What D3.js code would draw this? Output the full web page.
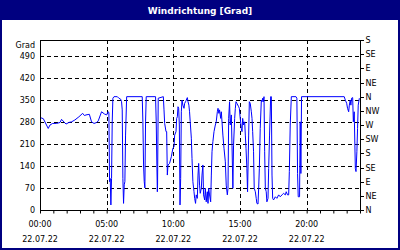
<!DOCTYPE html>
<html>
<head>
<meta charset="utf-8">
<script src="https://cdn.jsdelivr.net/npm/d3@7"></script>
<style>
  body { margin: 0; background: #fff; }
  svg { display: block; }
</style>
</head>
<body>
<svg id="svg1"></svg>
<script>
const title = 'Windrichtung [Grad]';
const unitLabel = 'Grad';
const day = '2022-07-22';

// minutes since midnight and direction in degrees
const minutes = [0, 15, 37, 45, 57, 75, 90, 97, 110, 117, 130, 142, 157, 175, 192, 200, 207, 222, 232, 243, 255, 262, 277, 290, 300, 306, 310,
  313, 316, 319, 322, 325, 328, 333, 348, 355, 363, 367, 370, 373, 376, 379, 382, 385, 390, 460, 463, 466, 469, 472, 475, 478,
  520, 523, 526, 528, 529, 532, 555, 558, 561, 567, 570, 573, 576, 583, 591, 598, 603, 606, 612, 615, 618, 621, 624, 627, 630,
  633, 636, 639, 643, 648, 651, 655, 658, 663, 666, 670, 673, 676, 681, 684, 688, 693, 696, 700, 703, 708, 711, 714, 718, 721,
  726, 729, 733, 736, 741, 744, 748, 753, 756, 759, 763, 768, 771, 774, 778, 783, 789, 793, 798, 801, 805, 808, 813, 816, 820,
  823, 828, 834, 838, 843, 846, 849, 853, 856, 861, 864, 868, 871, 876, 879, 882, 886, 894, 897, 901, 906, 909, 912, 916, 921,
  924, 927, 931, 934, 939, 942, 946, 951, 954, 957, 961, 964, 969, 973, 976, 981, 984, 987, 991, 996, 999, 1002, 1005, 1008,
  1011, 1014, 1018, 1021, 1026, 1029, 1033, 1038, 1041, 1044, 1047, 1051, 1059, 1066, 1074, 1081, 1089, 1096, 1104, 1108,
  1114, 1119, 1122, 1126, 1131, 1152, 1156, 1159, 1162, 1168, 1171, 1174, 1177, 1369, 1374, 1380, 1384, 1389, 1392, 1396,
  1399, 1402, 1407, 1410, 1414, 1419, 1422, 1426, 1429, 1432, 1437];
const degrees = [294, 290, 259, 270, 275, 275, 278, 288, 278, 273, 278, 280, 286, 296, 307, 300, 302, 304, 280, 275, 278, 283, 312, 305, 302, 312, 310,
  90, 100, 16, 100, 280, 355, 360, 360, 355, 352, 344, 318, 100, 21, 80, 90, 238, 360, 360, 280, 143, 90, 70, 280, 360,
  360, 280, 143, 58, 79, 355, 360, 318, 275, 249, 249, 111, 143, 148, 169, 196, 201, 238, 249, 291, 296, 328, 323, 270, 16,
  100, 312, 349, 333, 323, 339, 344, 349, 357, 344, 333, 312, 280, 228, 164, 90, 58, 37, 21, 48, 37, 111, 148, 79, 53,
  69, 111, 143, 48, 32, 69, 26, 58, 21, 69, 48, 26, 111, 185, 217, 249, 270, 280, 312, 323, 307, 318, 291, 312, 270,
  238, 196, 153, 79, 48, 69, 291, 344, 270, 302, 206, 69, 206, 291, 323, 344, 339, 328, 323, 291, 259, 249, 291, 270, 280,
  238, 196, 132, 58, 238, 344, 339, 312, 291, 249, 185, 69, 58, 37, 21, 19, 69, 132, 259, 349, 344, 355, 344, 360,
  185, 69, 58, 26, 37, 132, 238, 360, 360, 111, 37, 32, 42, 37, 48, 42, 48, 53, 48, 58,
  48, 48, 122, 270, 360, 360, 355, 116, 42, 42, 280, 116, 360, 360, 349, 339, 323, 312, 333, 349,
  333, 355, 357, 280, 312, 132, 122, 185, 259, 333, 355];

const leftTicks = [70, 140, 210, 280, 350, 420, 490];
const leftLabels = [0, 70, 140, 210, 280, 350, 420, 490];
const compass = ['N', 'NE', 'E', 'SE', 'S', 'SW', 'W', 'NW', 'N', 'NE', 'E', 'SE', 'S'];
const labelHours = [0, 5, 10, 15, 20];

const width = 400;
const height = 250;
const navy = '#000080';
const plot = { left: 40, right: 360, top: 40, bottom: 210 };

const svg = d3.select('#svg1')
    .attr('width', width)
    .attr('height', height)
    .style('font-family', '"DejaVu Sans", sans-serif');

svg.append('rect')
    .attr('width', width)
    .attr('height', height)
    .attr('fill', navy);
svg.append('rect')
    .attr('x', 2)
    .attr('y', 20)
    .attr('width', width - 4)
    .attr('height', height - 22)
    .attr('fill', '#fff');

svg.append('text')
    .attr('x', width / 2)
    .attr('y', 14)
    .attr('text-anchor', 'middle')
    .attr('fill', '#fff')
    .style('font-size', '9px')
    .style('font-weight', 'bold')
    .text(title);

const start = new Date(day + 'T00:00:00');
const toDate = m => new Date(start.getTime() + m * 60000);

const x = d3.scaleTime()
    .domain([start, toDate(1440)])
    .range([plot.left, plot.right]);
const y = d3.scaleLinear()
    .domain([0, 540])
    .range([plot.bottom, plot.top]);

// grid
const grid = svg.append('g')
    .attr('stroke', '#000')
    .attr('stroke-dasharray', '4,3')
    .attr('shape-rendering', 'crispEdges');
grid.selectAll('.h')
    .data(leftTicks)
    .join('line')
    .attr('x1', plot.left)
    .attr('x2', plot.right)
    .attr('y1', d => Math.round(y(d)) + 0.5)
    .attr('y2', d => Math.round(y(d)) + 0.5);
grid.selectAll('.v')
    .data(labelHours.slice(1))
    .join('line')
    .attr('x1', d => Math.round(x(toDate(d * 60))) + 0.5)
    .attr('x2', d => Math.round(x(toDate(d * 60))) + 0.5)
    .attr('y1', plot.top)
    .attr('y2', plot.bottom);

// data line
const points = minutes.map((m, i) => [toDate(m), degrees[i]]);
const line = d3.line()
    .x(d => x(d[0]))
    .y(d => y(d[1]));
svg.append('path')
    .datum(points)
    .attr('d', line)
    .attr('fill', 'none')
    .attr('stroke', '#0000ff')
    .attr('stroke-width', 1);

// frame
svg.append('rect')
    .attr('x', plot.left + 0.5)
    .attr('y', plot.top + 0.5)
    .attr('width', plot.right - plot.left)
    .attr('height', plot.bottom - plot.top)
    .attr('fill', 'none')
    .attr('stroke', '#000')
    .attr('shape-rendering', 'crispEdges');

// bottom axis: hourly ticks, two-line labels
const hours = d3.range(0, 25).map(h => toDate(h * 60));
const xAxis = d3.axisBottom(x)
    .tickValues(hours)
    .tickSize(3)
    .tickFormat('');
const gx = svg.append('g')
    .attr('transform', 'translate(0,' + (plot.bottom + 0.5) + ')')
    .call(xAxis);
gx.select('.domain').remove();

const xLabels = svg.append('g')
    .style('font-size', '8px')
    .attr('text-anchor', 'middle')
    .attr('fill', '#000');
for (const h of labelHours) {
    const d = toDate(h * 60);
    xLabels.append('text')
        .attr('x', x(d))
        .attr('y', 227)
        .text(d3.timeFormat('%H:%M')(d));
    xLabels.append('text')
        .attr('x', x(d))
        .attr('y', 242)
        .text(d3.timeFormat('%d.%m.%y')(d));
}

// left axis
const yAxis = d3.axisLeft(y)
    .tickValues(leftLabels)
    .tickSize(0)
    .tickPadding(5);
const gy = svg.append('g')
    .attr('transform', 'translate(' + (plot.left) + ',0)')
    .call(yAxis);
gy.select('.domain').remove();
gy.selectAll('text')
    .style('font-size', '8px')
    .style('font-family', '"DejaVu Sans", sans-serif');

svg.append('text')
    .attr('x', 35)
    .attr('y', 48)
    .attr('text-anchor', 'end')
    .style('font-size', '8px')
    .text(unitLabel);

// right axis with compass directions
const yRight = d3.axisRight(y)
    .tickValues(d3.range(0, 541, 45))
    .tickSize(3)
    .tickPadding(2)
    .tickFormat((d, i) => compass[i]);
const gr = svg.append('g')
    .attr('transform', 'translate(' + (plot.right + 0.5) + ',0)')
    .call(yRight);
gr.select('.domain').remove();
gr.selectAll('line').attr('shape-rendering', 'crispEdges');
gr.selectAll('text')
    .style('font-size', '8px')
    .style('font-family', '"DejaVu Sans", sans-serif');
</script>
</body>
</html>
